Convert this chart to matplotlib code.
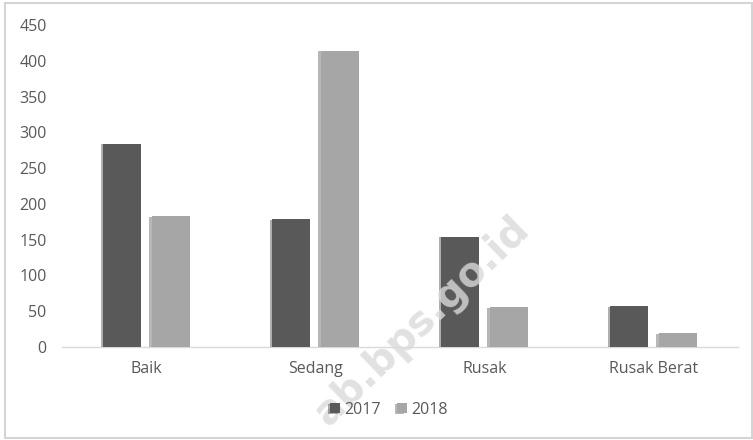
import matplotlib
matplotlib.use("Agg")
import matplotlib.pyplot as plt
import matplotlib.patheffects as pe
from matplotlib.patches import Rectangle
import numpy as np

categories = ["Baik", "Sedang", "Rusak", "Rusak Berat"]
series_labels = ["2017", "2018"]
values_2017 = [284, 179, 154, 57]
values_2018 = [183, 414, 56, 19]
y_ticks = [0, 50, 100, 150, 200, 250, 300, 350, 400, 450]

plt.rcParams["font.family"] = ["Open Sans", "DejaVu Sans"]

fig = plt.figure(figsize=(7.53, 4.40), dpi=100)
fig.patch.set_facecolor("white")

# light frame around the chart
fig.patches.append(Rectangle((5 / 753, 2 / 440), 747 / 753, 435 / 440,
                             transform=fig.transFigure, fill=False,
                             edgecolor="#d4d4d4", linewidth=1.5, zorder=0))

ax = fig.add_axes([62 / 753, 93 / 440, 676 / 753, 322 / 440])
x = np.arange(len(categories))
w = 0.225
off = 0.1425
shadow = [pe.SimplePatchShadow(offset=(-1.5, -0.5), alpha=0.35), pe.Normal()]
b1 = ax.bar(x - off, values_2017, w, color="#595959", label=series_labels[0], zorder=3)
b2 = ax.bar(x + off, values_2018, w, color="#a6a6a6", label=series_labels[1], zorder=3)
for b in list(b1) + list(b2):
    b.set_path_effects(shadow)

ax.set_xlim(-0.5, len(categories) - 0.5)
ax.set_ylim(0, 450)
ax.set_yticks(y_ticks)
ax.set_xticks(x)
ax.set_xticklabels(categories)
for s in ["left", "right", "top"]:
    ax.spines[s].set_visible(False)
ax.spines["bottom"].set_color("#d9d9d9")
ax.spines["bottom"].set_linewidth(1.0)
ax.tick_params(axis="both", length=0, labelsize=11.5, labelcolor="#595959")
ax.tick_params(axis="y", pad=11)
ax.tick_params(axis="x", pad=10)

leg = fig.legend(handles=[b1, b2], labels=series_labels, loc="center",
                 bbox_to_anchor=(389 / 753, 1 - 410 / 440), ncol=2, frameon=False,
                 fontsize=11.5, handlelength=0.6, handleheight=0.6,
                 handletextpad=0.3, columnspacing=1.0)
leg.set_zorder(5)
for t in leg.get_texts():
    t.set_color("#595959")

# site watermark
fig.text(422 / 753, 1 - 322 / 440, "ab.bps.go.id", rotation=44, fontsize=29,
         fontweight="bold", color="#dadada", ha="center", va="center",
         family=["DejaVu Sans"], zorder=1, alpha=0.8)

fig.savefig("out.png", dpi=100, facecolor="white")
